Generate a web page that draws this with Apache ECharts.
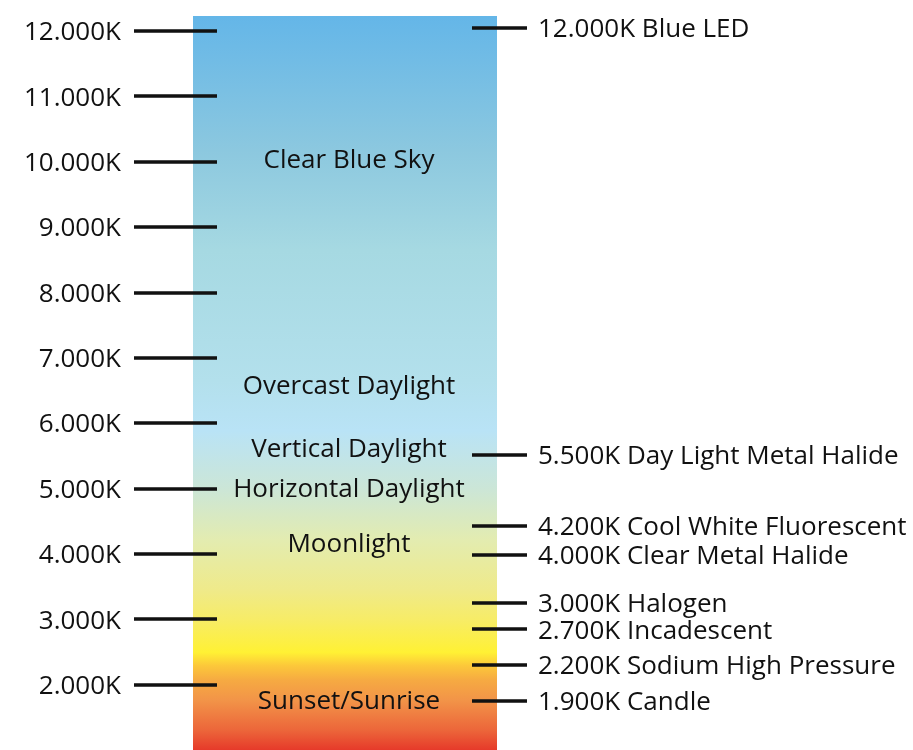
<!DOCTYPE html>
<html>
<head>
<meta charset="utf-8">
<script src="https://cdn.jsdelivr.net/npm/echarts@6/dist/echarts.min.js"></script>
<style>
  html, body { margin: 0; padding: 0; background: #fff; }
  #chart { width: 913px; height: 750px; }
</style>
</head>
<body>
<div id="chart"></div>
<script>
// ---- data ----
var barRange = [1000, 12225];               // colour temperature span of the bar (K)
var leftTickValues = [2000, 3000, 4000, 5000, 6000, 7000, 8000, 9000, 10000, 11000, 12000];
var leftTickLabels = ['2.000K', '3.000K', '4.000K', '5.000K', '6.000K', '7.000K', '8.000K', '9.000K', '10.000K', '11.000K', '12.000K'];
var rightMarkValues = [12050, 5517, 4427, 3983, 3254, 2847, 2301, 1751]; // marker positions as drawn (K)
var rightMarkLabels = ['12.000K Blue LED', '5.500K Day Light Metal Halide', '4.200K Cool White Fluorescent',
  '4.000K Clear Metal Halide', '3.000K Halogen', '2.700K Incadescent', '2.200K Sodium High Pressure', '1.900K Candle'];
var zoneNames = ['Clear Blue Sky', 'Overcast Daylight', 'Vertical Daylight', 'Horizontal Daylight', 'Moonlight', 'Sunset/Sunrise'];
var zoneValues = [10050, 6583, 5619, 5008, 4167, 1766];

// ---- style ----
var FONT = 'Open Sans';
var INK = '#111111';
var gradientStops = [
  { offset: 0.000, color: '#64b6e8' },
  { offset: 0.184, color: '#8cc8df' },
  { offset: 0.320, color: '#a6d9e2' },
  { offset: 0.497, color: '#b3e0ec' },
  { offset: 0.565, color: '#b9e3f6' },
  { offset: 0.646, color: '#cce6d6' },
  { offset: 0.714, color: '#e3ecb0' },
  { offset: 0.782, color: '#efea8a' },
  { offset: 0.823, color: '#f7ec66' },
  { offset: 0.867, color: '#fff134' },
  { offset: 0.885, color: '#fcc83a' },
  { offset: 0.905, color: '#f6aa42' },
  { offset: 0.932, color: '#f29448' },
  { offset: 0.973, color: '#ec663a' },
  { offset: 1.000, color: '#e63a2a' }
];
var labelRich = { t: { fontFamily: FONT, fontSize: 26, color: INK, padding: [4, 0, 0, 0] } };

var chart = echarts.init(document.getElementById('chart'), null, { renderer: 'canvas' });

chart.setOption({
  animation: false,
  backgroundColor: '#ffffff',
  grid: { left: 193, right: 416, top: 16, bottom: 0 },
  xAxis: { type: 'value', min: 0, max: 1, show: false },
  yAxis: [
    {
      type: 'value', position: 'left', offset: -24,
      min: barRange[0], max: barRange[1], z: 10,
      axisLine: { show: false },
      splitLine: { show: false },
      axisTick: { show: true, customValues: leftTickValues, length: 83, lineStyle: { color: INK, width: 3.5 } },
      axisLabel: {
        show: true, customValues: leftTickValues, margin: 96,
        fontFamily: FONT, fontSize: 26, color: INK, rich: labelRich,
        formatter: function (v) { var i = leftTickValues.indexOf(v); return i >= 0 ? '{t|' + leftTickLabels[i] + '}' : ''; }
      }
    },
    {
      type: 'value', position: 'right', offset: -25,
      min: barRange[0], max: barRange[1], z: 10,
      axisLine: { show: false },
      splitLine: { show: false },
      axisTick: { show: true, customValues: rightMarkValues, length: 55, lineStyle: { color: INK, width: 3.5 } },
      axisLabel: {
        show: true, customValues: rightMarkValues, margin: 66,
        fontFamily: FONT, fontSize: 26, color: INK, rich: labelRich,
        formatter: function (v) { var i = rightMarkValues.indexOf(v); return i >= 0 ? '{t|' + rightMarkLabels[i] + '}' : ''; }
      }
    }
  ],
  series: [
    {
      type: 'custom', z: 1, silent: true, clip: false,
      data: [[0, barRange[0], 1, barRange[1]]],
      renderItem: function (params, api) {
        var p0 = api.coord([api.value(0), api.value(3)]);
        var p1 = api.coord([api.value(2), api.value(1)]);
        return {
          type: 'rect',
          shape: { x: p0[0], y: p0[1], width: p1[0] - p0[0], height: p1[1] - p0[1] },
          style: { fill: new echarts.graphic.LinearGradient(0, 0, 0, 1, gradientStops) }
        };
      }
    },
    {
      type: 'custom', z: 5, silent: true, clip: false,
      data: zoneValues.map(function (v, i) { return [0.5, v, i]; }),
      renderItem: function (params, api) {
        var p = api.coord([api.value(0), api.value(1)]);
        return {
          type: 'text',
          x: p[0] + 4, y: p[1] + 2,
          style: {
            text: zoneNames[api.value(2)],
            fontFamily: FONT, fontSize: 26, fill: INK,
            align: 'center', verticalAlign: 'middle'
          }
        };
      }
    }
  ]
});
</script>
</body>
</html>
